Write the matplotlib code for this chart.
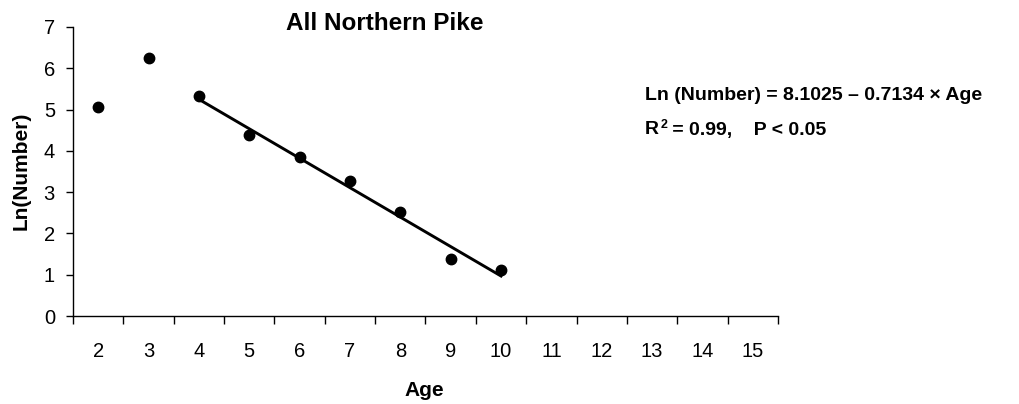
import numpy as np
import matplotlib.pyplot as plt
from matplotlib.ticker import FixedLocator

plt.rcParams['font.family'] = ['Liberation Sans', 'DejaVu Sans']

# données
ages = [2, 3, 4, 5, 6, 7, 8, 9, 10, 11, 12, 13, 14, 15]
ln_number = [5.06, 6.25, 5.33, 4.38, 3.86, 3.28, 2.52, 1.39, 1.11]
fit_ages = [4, 10]
intercept = 8.1025
slope = -0.7134

fig = plt.figure(figsize=(10.19, 4.04), dpi=100)
ax = fig.add_axes([0.0716, 0.2178, 0.6919, 0.7154])

pos = np.arange(len(ages))
ax.plot(pos[:len(ln_number)], ln_number, 'o', color='black', markersize=7.5)

# droite de régression (calculée depuis l'équation)
fit_x = np.array(fit_ages)
fit_y = intercept + slope * fit_x
fit_pos = [ages.index(a) for a in fit_ages]
ax.plot(fit_pos, fit_y, color='black', lw=2.1)

ax.set_xlim(-0.5, len(ages) - 0.5)
ax.set_ylim(0, 7)
ax.set_yticks(range(0, 8))

ax.set_xticks(pos)
ax.set_xticklabels([str(a) for a in ages])
ax.xaxis.set_minor_locator(FixedLocator(np.arange(len(ages) + 1) - 0.5))
ax.tick_params(axis='x', which='major', length=0, pad=19, labelsize=14.5)
ax.tick_params(axis='x', which='minor', length=6, width=1, direction='out')
ax.tick_params(axis='y', length=5, width=1, direction='out', labelsize=14.5, pad=8)

for s in ['top', 'right']:
    ax.spines[s].set_visible(False)
for s in ['left', 'bottom']:
    ax.spines[s].set_linewidth(1)

fig.text(21.5 / 1019, 1 - 171 / 404, 'Ln(Number)', fontsize=15, fontweight='bold',
         rotation=90, ha='center', va='center')
fig.text(424 / 1019, 1 - 391 / 404, 'Age', fontsize=15, fontweight='bold',
         ha='center', va='center')
fig.text(385 / 1019, 1 - 23 / 404, 'All Northern Pike', fontsize=17.5,
         fontweight='bold', ha='center', va='center')

fig.text(645 / 1019, 1 - 96 / 404, 'Ln (Number) = 8.1025 \u2013 0.7134 \u00d7 Age',
         fontsize=14, fontweight='bold', ha='left', va='center')
# R² : exposant en petit texte séparé
fig.text(645 / 1019, 1 - 130 / 404, 'R', fontsize=14, fontweight='bold',
         ha='left', va='center')
fig.text(661 / 1019, 1 - 125 / 404, '2', fontsize=9, fontweight='bold',
         ha='left', va='center')
fig.text(667 / 1019, 1 - 130 / 404, ' = 0.99,    P < 0.05', fontsize=14,
         fontweight='bold', ha='left', va='center')

fig.savefig('out.png', dpi=100)
